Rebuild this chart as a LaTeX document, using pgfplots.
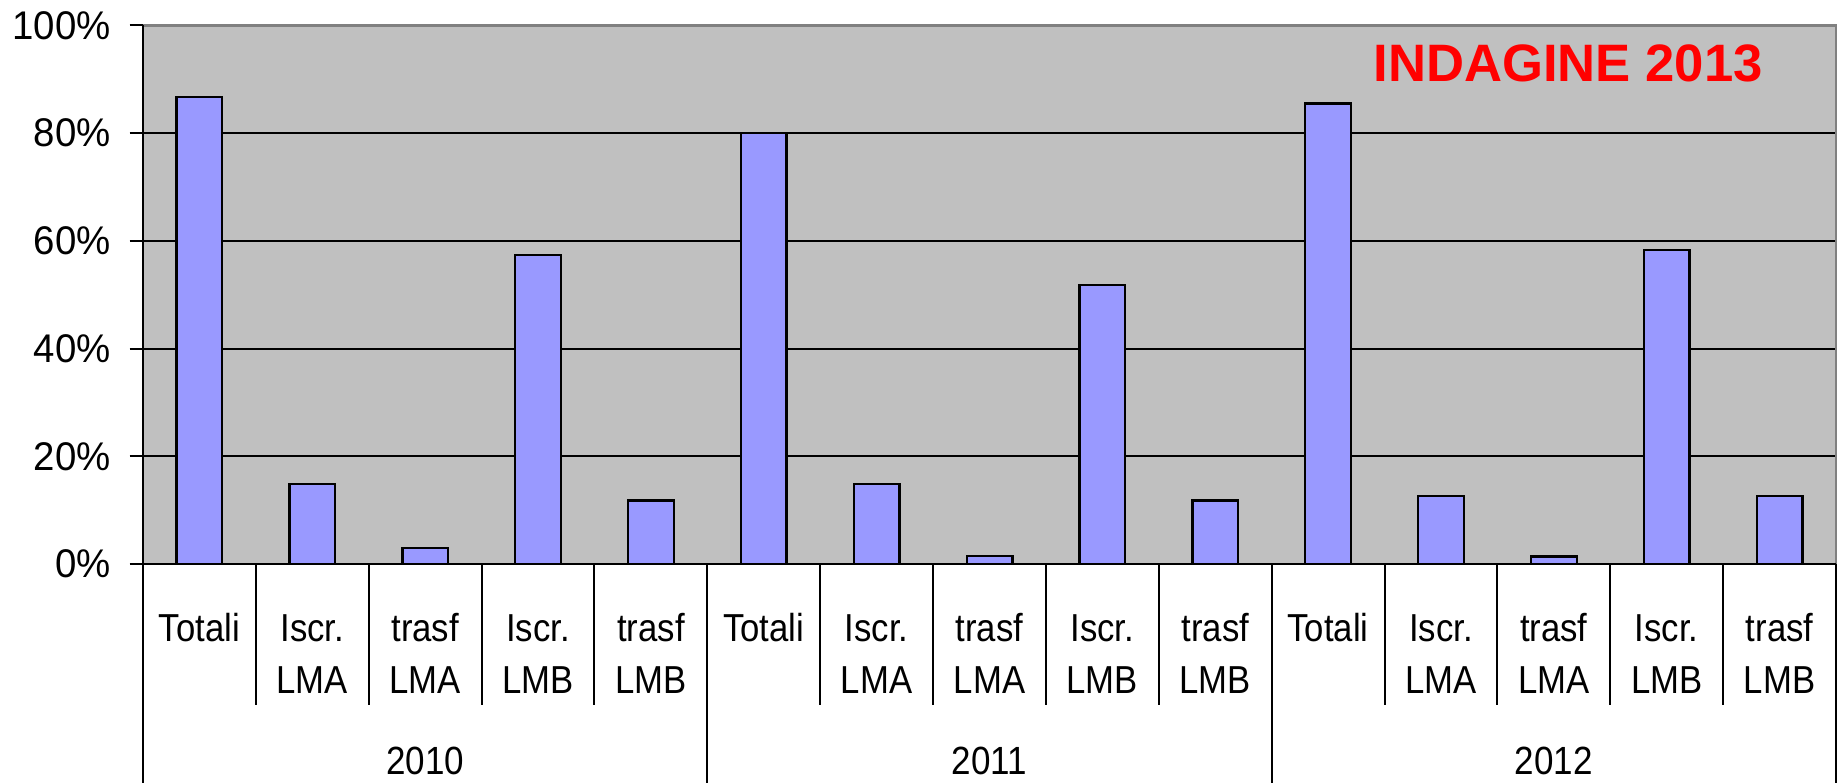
\documentclass[border=0pt]{standalone}
\usepackage{pgfplots}
\pgfplotsset{compat=1.18}
\usepackage{fontspec}
\setmainfont{Liberation Sans}[FakeStretch=0.89]
\newfontfamily\tickfont{Liberation Sans}[FakeStretch=0.96]
\newfontfamily\titlefont{Liberation Sans}

\definecolor{plotbg}{HTML}{C0C0C0}
\definecolor{barfill}{HTML}{9999FF}
\definecolor{framegray}{HTML}{808080}

\begin{document}
\begin{tikzpicture}
\begin{axis}[
  scale only axis,
  width=507.9pt, height=161.55pt,
  at={(0pt,0pt)}, anchor=south west,
  xmin=-0.5, xmax=14.5,
  ymin=0, ymax=100,
  ybar, bar width=13.7pt,
  axis background/.style={fill=plotbg},
  axis line style={draw=none},
  xtick=\empty,
  ytick={0,20,40,60,80,100},
  yticklabels={0\%,20\%,40\%,60\%,80\%,100\%},
  ymajorgrids,
  grid style={black, line width=0.6pt},
  tick align=outside,
  ytick pos=left,
  major tick length=4pt,
  tick style={black, line width=0.6pt},
  yticklabel style={font=\tickfont\fontsize{12}{14}\selectfont, anchor=east, inner sep=0pt, xshift=-5.5pt},
]
\addplot[fill=barfill, draw=black, line width=0.7pt] coordinates {
  (0,86.7) (1,14.9) (2,3.0) (3,57.4) (4,11.8)
  (5,80.0) (6,14.8) (7,1.5) (8,51.8) (9,11.8)
  (10,85.5) (11,12.6) (12,1.4) (13,58.3) (14,12.6)
};
\end{axis}

% frame: black left and bottom, grey top and right
\draw[framegray, line width=0.7pt] (0,161.55pt) -- (507.9pt,161.55pt) -- (507.9pt,0);
\draw[black, line width=0.7pt] (0,161.55pt) -- (0,0) -- (507.9pt,0);

% category separators
\foreach \k in {1,2,3,4,6,7,8,9,11,12,13,14}
  \draw[black, line width=0.6pt] ({\k*33.86pt},0) -- ++(0,-42.3pt);
\foreach \k in {0,5,10,15}
  \draw[black, line width=0.6pt] ({\k*33.86pt},0) -- ++(0,-65.7pt);

% category labels
\foreach \g in {0,5,10} {
  \foreach \j/\a/\b in {0/Totali/{},1/Iscr./LMA,2/trasf/LMA,3/Iscr./LMB,4/trasf/LMB} {
    \node[anchor=base, inner sep=0pt, font=\fontsize{11.7}{14}\selectfont]
      at ({(\g+\j+0.5)*33.86pt},-23.25pt) {\a};
    \node[anchor=base, inner sep=0pt, font=\fontsize{11.7}{14}\selectfont]
      at ({(\g+\j+0.5)*33.86pt},-38.9pt) {\b};
  }
}
\foreach \y/\k in {2010/2.5,2011/7.5,2012/12.5}
  \node[anchor=base, inner sep=0pt, font=\fontsize{11.8}{14}\selectfont]
    at ({\k*33.86pt},-63.3pt) {\y};

% title
\node[inner sep=0pt, text=red, font=\titlefont\bfseries\fontsize{15.8}{18}\selectfont]
  at (427.5pt,150.3pt) {INDAGINE 2013};

\pgfresetboundingbox
\useasboundingbox (-42.9pt,-65.7pt) rectangle (508.2pt,169.2pt);
\end{tikzpicture}
\end{document}
